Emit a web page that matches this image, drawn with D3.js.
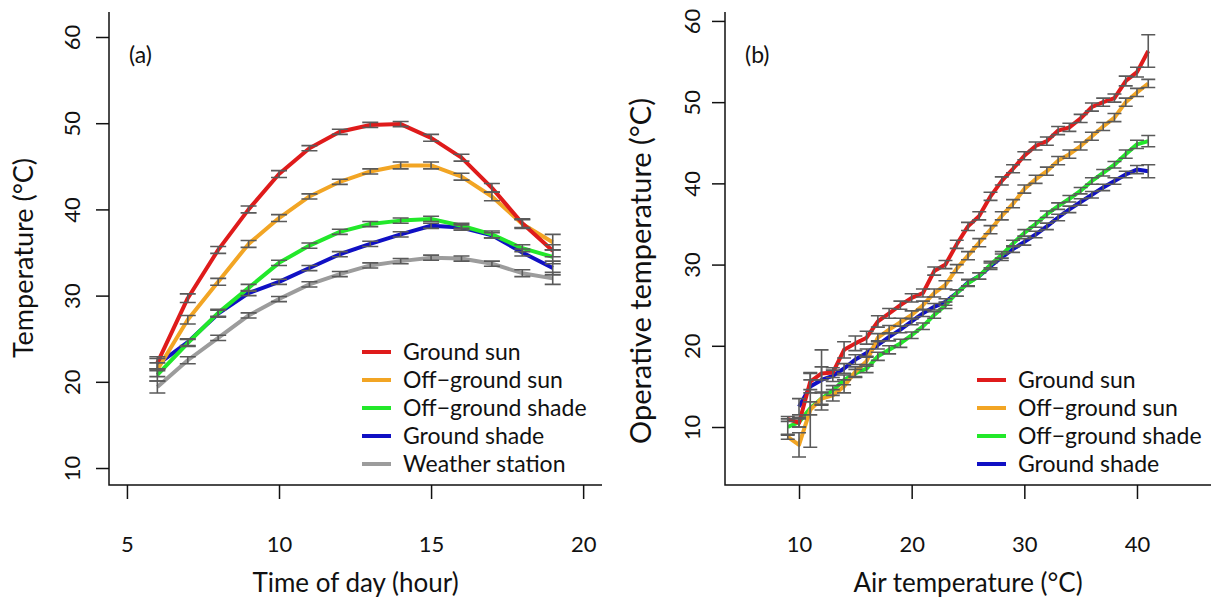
<!DOCTYPE html>
<html>
<head>
<meta charset="utf-8">
<script src="https://cdn.jsdelivr.net/npm/d3@7"></script>
<style>
  body { margin: 0; background: #fff; }
  svg text { font-family: Lato, "Open Sans", sans-serif; fill: #111; }
</style>
</head>
<body>
<div id="chart"></div>
<script>
// ---- panel (a) data : time of day ----
let hours = [6, 7, 8, 9, 10, 11, 12, 13, 14, 15, 16, 17, 18, 19]
let groundSunA = [22.2, 29.7, 35.3, 40.0, 44.1, 47.1, 49.0, 49.8, 49.9, 48.3, 46.0, 42.5, 38.4, 35.2]
let offSunA = [21.4, 27.2, 31.6, 36.0, 39.0, 41.5, 43.2, 44.4, 45.1, 45.1, 43.8, 41.5, 38.3, 36.2]
let offShadeA = [20.8, 24.5, 28.0, 30.9, 33.8, 35.8, 37.4, 38.3, 38.7, 38.9, 38.1, 37.1, 35.5, 34.5]
let groundShadeA = [22.0, 24.6, 27.9, 30.3, 31.6, 33.2, 34.8, 36.0, 37.1, 38.1, 37.9, 37.0, 35.0, 33.2]
let weatherA = [19.4, 22.5, 25.1, 27.7, 29.6, 31.3, 32.5, 33.5, 34.0, 34.4, 34.3, 33.7, 32.6, 32.0]
let errGroundSunA = [0.7, 0.5, 0.4, 0.4, 0.4, 0.3, 0.3, 0.3, 0.3, 0.4, 0.4, 0.5, 0.5, 0.7]
let errOffSunA = [0.8, 0.5, 0.4, 0.4, 0.4, 0.3, 0.3, 0.3, 0.4, 0.4, 0.4, 0.5, 0.5, 0.9]
let errOffShadeA = [0.7, 0.4, 0.4, 0.4, 0.3, 0.3, 0.3, 0.3, 0.3, 0.3, 0.3, 0.4, 0.4, 0.8]
let errGroundShadeA = [0.7, 0.4, 0.4, 0.3, 0.3, 0.3, 0.3, 0.3, 0.3, 0.3, 0.3, 0.3, 0.4, 0.8]
let errWeatherA = [0.7, 0.4, 0.3, 0.3, 0.3, 0.3, 0.3, 0.3, 0.3, 0.3, 0.3, 0.3, 0.4, 0.7]
let xTicksA = [5, 10, 15, 20]
let yTicksA = [10, 20, 30, 40, 50, 60]

// ---- panel (b) data : air temperature ----
let airTemp = [9, 10, 11, 12, 13, 14, 15, 16, 17, 18, 19, 20, 21, 22, 23, 24, 25, 26, 27, 28, 29, 30, 31, 32, 33, 34, 35, 36, 37, 38, 39, 40, 41]
let groundSunB = [11.0, 10.5, 15.6, 16.6, 16.7, 19.5, 20.3, 21.0, 23.0, 24.0, 25.0, 25.9, 26.5, 29.2, 30.0, 32.5, 34.7, 36.0, 38.4, 40.3, 41.8, 43.4, 44.6, 45.2, 46.5, 46.9, 48.0, 49.4, 50.0, 50.5, 52.6, 53.7, 56.3]
let offSunB = [8.8, 7.8, 12.1, 13.5, 13.9, 15.0, 16.8, 18.1, 21.0, 22.0, 22.9, 23.8, 25.0, 26.5, 27.5, 29.5, 31.1, 32.7, 34.3, 36.0, 37.5, 39.3, 40.5, 41.5, 42.8, 43.6, 44.6, 45.8, 47.0, 48.1, 50.0, 51.2, 52.3]
let offShadeB = [10.0, 10.6, 12.3, 13.5, 14.5, 15.8, 16.6, 17.2, 18.7, 19.5, 20.3, 21.3, 22.4, 23.8, 25.0, 26.5, 27.7, 28.6, 30.0, 31.2, 32.6, 33.9, 35.0, 36.2, 37.2, 38.1, 39.1, 40.3, 41.3, 42.3, 43.6, 44.8, 45.2]
let groundShadeB = [null, 12.5, 15.0, 15.8, 16.3, 17.2, 18.3, 19.1, 20.1, 21.1, 22.0, 23.0, 24.0, 24.8, 25.4, 26.5, 27.8, 28.6, 29.8, 30.9, 31.9, 32.8, 33.7, 34.7, 35.8, 36.8, 37.7, 38.6, 39.5, 40.3, 41.1, 41.7, 41.5]
let errGroundSunB = [0.3, 0.5, 1.0, 0.8, 0.6, 1.0, 0.9, 0.8, 0.7, 0.6, 0.5, 0.5, 0.5, 0.5, 0.5, 0.5, 0.5, 0.5, 0.5, 0.5, 0.5, 0.5, 0.5, 0.5, 0.5, 0.5, 0.5, 0.5, 0.5, 0.5, 0.6, 0.6, 2.0]
let errOffSunB = [0.3, 1.5, 4.6, 0.8, 0.7, 0.8, 0.6, 0.6, 0.5, 0.5, 0.5, 0.5, 0.5, 0.5, 0.5, 0.5, 0.5, 0.5, 0.5, 0.5, 0.5, 0.5, 0.5, 0.5, 0.5, 0.5, 0.5, 0.5, 0.5, 0.5, 0.5, 0.5, 0.5]
let errOffShadeB = [1.0, 0.6, 0.8, 0.7, 0.6, 0.6, 0.5, 0.5, 0.5, 0.5, 0.5, 0.4, 0.4, 0.4, 0.4, 0.4, 0.4, 0.4, 0.4, 0.4, 0.4, 0.4, 0.4, 0.4, 0.4, 0.4, 0.4, 0.4, 0.4, 0.4, 0.5, 0.5, 0.7]
let errGroundShadeB = [null, 1.0, 0.8, 3.7, 0.7, 0.6, 0.6, 0.5, 0.5, 0.5, 0.4, 0.4, 0.4, 0.4, 0.4, 0.4, 0.4, 0.4, 0.4, 0.4, 0.4, 0.4, 0.4, 0.4, 0.4, 0.4, 0.4, 0.4, 0.4, 0.4, 0.4, 0.5, 0.8]
let xTicksB = [10, 20, 30, 40]
let yTicksB = [10, 20, 30, 40, 50, 60]

let seriesNames = ['Ground sun', 'Off\u2212ground sun', 'Off\u2212ground shade', 'Ground shade', 'Weather station']
let seriesColors = ['#df1b1b', '#f2a524', '#22e82a', '#1010c4', '#9c9c9c']

let width = 1219, height = 610

let svg = d3.select('#chart').append('svg')
    .attr('width', width)
    .attr('height', height)

// draw one panel (axes, lines, error bars, legend)
function drawPanel(cfg) {
    let x = d3.scaleLinear().domain(cfg.xDomain).range([cfg.left, cfg.right])
    let y = d3.scaleLinear().domain(cfg.yDomain).range([cfg.bottom, cfg.top])
    let g = svg.append('g').attr('class', cfg.name)

    //Axes (R style, bty = "l")
    g.append('g')
        .attr('transform', 'translate(0,' + cfg.bottom + ')')
        .call(d3.axisBottom(x).tickValues(cfg.xTicks).tickSize(14).tickPadding(37).tickSizeOuter(0))
        .call(a => a.select('.domain').remove())
        .selectAll('text').style('font-size', '22px')
    g.append('g')
        .attr('transform', 'translate(' + cfg.left + ',0)')
        .call(d3.axisLeft(y).tickValues(cfg.yTicks).tickSize(13).tickSizeOuter(0))
        .call(a => a.select('.domain').remove())
        .selectAll('text')
        .style('font-size', '22px')
        .attr('text-anchor', 'middle')
        .attr('x', 0)
        .attr('y', 0)
        .attr('dy', '0.35em')
        .attr('transform', 'translate(' + (cfg.yLabelX - cfg.left) + ',0) rotate(-90)')
    g.selectAll('.tick line').attr('stroke', '#111').attr('stroke-width', 1.5)
    g.append('path')
        .attr('d', 'M' + cfg.left + ',' + cfg.top + 'V' + cfg.bottom + 'H' + cfg.right)
        .attr('fill', 'none')
        .attr('stroke', '#111')
        .attr('stroke-width', 1.5)

    //Axis titles
    g.append('text')
        .attr('x', (cfg.left + cfg.right) / 2).attr('y', 583)
        .attr('dy', '0.35em')
        .attr('text-anchor', 'middle')
        .style('font-size', '26px')
        .text(cfg.xTitle)
    g.append('text')
        .attr('transform', 'translate(' + cfg.yTitleX + ',' + cfg.yTitleY + ') rotate(-90)')
        .attr('text-anchor', 'middle')
        .attr('dy', '0.35em')
        .style('font-size', cfg.yTitleSize + 'px')
        .text(cfg.yTitle)

    //Panel letter
    g.append('text')
        .attr('x', cfg.left + 20).attr('y', 63)
        .style('font-size', '23px')
        .text(cfg.letter)

    //Lines (drawn from the last series to the first, so ground sun is on top)
    let line = d3.line()
        .defined(d => d[1] != null)
        .x(d => x(d[0]))
        .y(d => y(d[1]))
    for (let s = cfg.series.length - 1; s >= 0; s--) {
        let pts = cfg.xs.map((v, i) => [v, cfg.series[s][i]])
        g.append('path')
            .datum(pts)
            .attr('d', line)
            .attr('fill', 'none')
            .attr('stroke', seriesColors[s])
            .attr('stroke-width', 4)
            .attr('stroke-linejoin', 'round')
    }

    //Error bars
    let bars = g.append('g').attr('stroke', '#5a5a5a').attr('stroke-width', 1.6).attr('fill', 'none')
    for (let s = cfg.series.length - 1; s >= 0; s--) {
        cfg.xs.forEach((v, i) => {
            let m = cfg.series[s][i]
            let e = cfg.errors[s][i]
            if (m == null || e == null) return
            let px = x(v)
            let y1 = y(m + e), y0 = y(m - e)
            bars.append('path')
                .attr('d', 'M' + px + ',' + y0 + 'V' + y1 +
                    'M' + (px - cfg.cap) + ',' + y1 + 'H' + (px + cfg.cap) +
                    'M' + (px - cfg.cap) + ',' + y0 + 'H' + (px + cfg.cap))
        })
    }

    //Legend
    let leg = g.append('g').attr('class', 'legend')
    cfg.series.forEach((s, i) => {
        let ly = cfg.legendY + i * 28
        leg.append('line')
            .attr('x1', cfg.legendX).attr('x2', cfg.legendX + 29)
            .attr('y1', ly).attr('y2', ly)
            .attr('stroke', seriesColors[i])
            .attr('stroke-width', 4)
        leg.append('text')
            .attr('x', cfg.legendX + 41).attr('y', ly)
            .attr('dy', '0.35em')
            .style('font-size', '23px')
            .text(seriesNames[i])
    })
}

drawPanel({
    name: 'panelA', letter: '(a)',
    left: 109, right: 602, top: 12, bottom: 485,
    xDomain: [4.41, 20.62], yDomain: [8.03, 62.9],
    xTicks: xTicksA, yTicks: yTicksA,
    yLabelX: 72, yTitleX: 24, yTitleY: 258, yTitleSize: 27,
    xTitle: 'Time of day (hour)', yTitle: 'Temperature (\u00b0C)',
    xs: hours,
    series: [groundSunA, offSunA, offShadeA, groundShadeA, weatherA],
    errors: [errGroundSunA, errOffSunA, errOffShadeA, errGroundShadeA, errWeatherA],
    cap: 8,
    legendX: 362, legendY: 352
})

drawPanel({
    name: 'panelB', letter: '(b)',
    left: 725, right: 1211, top: 12, bottom: 485,
    xDomain: [3.43, 46.57], yDomain: [2.86, 61.1],
    xTicks: xTicksB, yTicks: yTicksB,
    yLabelX: 692, yTitleX: 641, yTitleY: 271, yTitleSize: 29,
    xTitle: 'Air temperature (\u00b0C)', yTitle: 'Operative temperature (\u00b0C)',
    xs: airTemp,
    series: [groundSunB, offSunB, offShadeB, groundShadeB],
    errors: [errGroundSunB, errOffSunB, errOffShadeB, errGroundShadeB],
    cap: 7,
    legendX: 977, legendY: 380
})
</script>
</body>
</html>
